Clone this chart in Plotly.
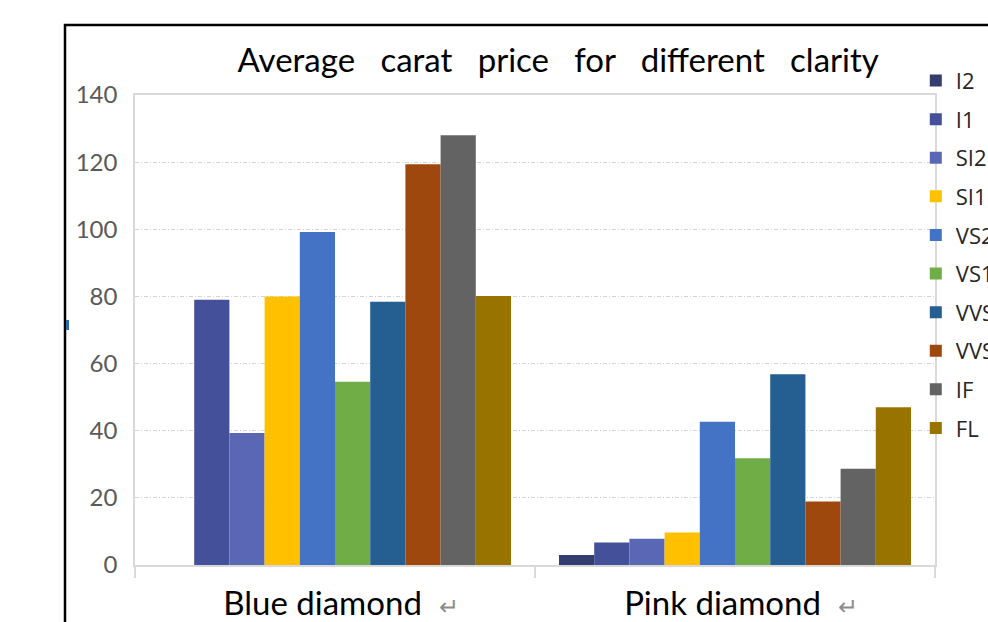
import plotly.graph_objects as go

# Diamond groups on the category axis
categories = ["Blue diamond", "Pink diamond"]

# Clarity grades, one bar series each
clarity = ["I2", "I1", "SI2", "SI1", "VS2", "VS1", "VVS2", "VVS1", "IF", "FL"]

# Average carat price per clarity grade
blue_values = [0, 79, 39.3, 80, 99.2, 54.6, 78.4, 119.4, 128, 80.1]
pink_values = [3, 6.7, 7.8, 9.7, 42.7, 31.8, 56.8, 18.9, 28.7, 47]

colors = ["#333D6E", "#44509A", "#5A67B4", "#FFC000", "#4472C4",
          "#70AD47", "#255E91", "#9E480E", "#636363", "#997300"]

FONT = "Lato, 'Open Sans', sans-serif"
LEGEND_FONT = "'Open Sans', Lato, sans-serif"

fig = go.Figure()
for i, grade in enumerate(clarity):
    fig.add_trace(go.Bar(
        name=grade,
        x=categories,
        y=[blue_values[i], pink_values[i]],
        marker=dict(color=colors[i], line=dict(width=0)),
        legendgroup=grade,
    ))

arrow = "\u00a0 <span style='color:#8c8c8c;font-size:24px'>\u21b5</span>"

fig.update_layout(
    width=988,
    height=622,
    autosize=False,
    paper_bgcolor="white",
    plot_bgcolor="white",
    margin=dict(l=135, r=53, t=95, b=57, autoexpand=False),
    barmode="group",
    bargap=0.12,
    bargroupgap=0,
    font=dict(family=FONT, color="#000000"),
    title=dict(
        text="Average\u00a0\u00a0 carat\u00a0\u00a0 price\u00a0\u00a0 for\u00a0\u00a0 different\u00a0\u00a0 clarity",
        font=dict(family=FONT, size=33, color="#000000"),
        x=0.529, xref="paper", xanchor="center",
        y=1 - 60 / 622, yref="container", yanchor="middle",
    ),
    legend=dict(
        x=0.976, xanchor="left",
        y=1.075, yanchor="top",
        font=dict(family=LEGEND_FONT, size=22, color="#262626"),
        bgcolor="rgba(0,0,0,0)",
        tracegroupgap=7,
        traceorder="grouped",
        maxheight=600,
        itemclick=False,
    ),
    xaxis=dict(
        type="category",
        tickmode="array",
        tickvals=categories,
        ticktext=[c + arrow for c in categories],
        tickson="boundaries",
        ticks="outside",
        ticklen=11,
        tickcolor="#d9d9d9",
        tickwidth=1.5,
        showline=True,
        linecolor="#d9d9d9",
        linewidth=1.5,
        mirror=True,
        showgrid=False,
        tickfont=dict(family=FONT, size=33, color="#000000"),
        ticklabelstandoff=9,
        ticklabelshift=6,
        range=[-0.5, 1.5],
    ),
    yaxis=dict(
        range=[0, 140],
        tickmode="linear",
        tick0=0,
        dtick=20,
        ticks="",
        showline=True,
        linecolor="#d9d9d9",
        linewidth=1.5,
        mirror=True,
        showgrid=True,
        gridcolor="#d4d4d4",
        gridwidth=1,
        griddash="4px,2px,1px,2px",
        zeroline=False,
        tickfont=dict(family=FONT, size=24, color="#595959"),
        ticklabelstandoff=11,
    ),
    shapes=[
        # outer frame of the chart object
        dict(type="rect", xref="paper", yref="paper",
             x0=(65 - 135) / 800, x1=1.2, y0=-0.3, y1=(565 - 25) / 470,
             line=dict(color="#000000", width=2.5), fillcolor="rgba(0,0,0,0)",
             layer="above"),
        # small selection handle on the frame's left edge
        dict(type="rect", xref="paper", yref="paper",
             x0=(66 - 135) / 800, x1=(69 - 135) / 800,
             y0=(565 - 330) / 470, y1=(565 - 320) / 470,
             line=dict(width=0), fillcolor="#2E6CA8", layer="above"),
    ],
)

fig.write_html("out.html")
